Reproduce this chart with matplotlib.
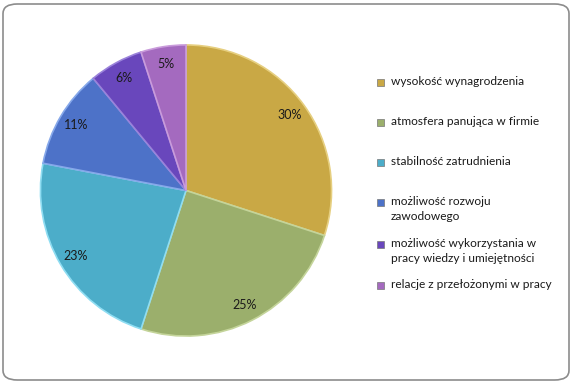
import matplotlib.pyplot as plt
from matplotlib.patches import FancyBboxPatch, Rectangle

labels = ['wysokość wynagrodzenia', 'atmosfera panująca w firmie', 'stabilność zatrudnienia',
          'możliwość rozwoju\nzawodowego', 'możliwość wykorzystania w\npracy wiedzy i umiejętności',
          'relacje z przełożonymi w pracy']
values = [30, 25, 23, 11, 6, 5]
colors = ['#C9A845', '#9BAF6C', '#4CADC9', '#4D72C8', '#6947BC', '#A46ABF']
edges = ['#E6CF80', '#C4D49A', '#8FDDF2', '#86A8EA', '#9A82DA', '#C99BDB']

plt.rcParams['font.family'] = ['Lato', 'DejaVu Sans']

W, H = 572, 383
fig = plt.figure(figsize=(W / 100, H / 100), dpi=100)

# rounded frame
frame = FancyBboxPatch((3 / W, 3 / H), 566 / W, 376 / H, boxstyle='round,pad=0,rounding_size=0.025',
                       transform=fig.transFigure, facecolor='none', edgecolor='#8C8C8C', linewidth=1.2)
fig.patches.append(frame)

cx, cy, r = 186, 190.5, 147
ax = fig.add_axes([(cx - r) / W, (H - cy - r) / H, 2 * r / W, 2 * r / H])
wedges, texts, autotexts = ax.pie(values, colors=colors, startangle=90, counterclock=False,
                                  autopct='%d%%', pctdistance=0.88, radius=1,
                                  wedgeprops=dict(linewidth=1.2),
                                  textprops=dict(fontsize=9, color='#1A1A1A'))
for w, ec in zip(wedges, edges):
    w.set_edgecolor(ec)
ax.set_xlim(-1.01, 1.01)
ax.set_ylim(-1.01, 1.01)
ax.set_aspect('equal')
ax.axis('off')

# legend
ys = [82, 122, 162, 202, 244, 285]
for lab, col, y in zip(labels, colors, ys):
    fig.patches.append(Rectangle((377 / W, (H - y - 3.5) / H), 7 / W, 7 / H, transform=fig.transFigure,
                                 facecolor=col, edgecolor='#777777', linewidth=0.5))
    fig.text(391 / W, (H - y + 6) / H, lab, fontsize=8.6, color='#1A1A1A', va='top', ha='left',
             linespacing=1.45)

fig.savefig('out.png', dpi=100)
